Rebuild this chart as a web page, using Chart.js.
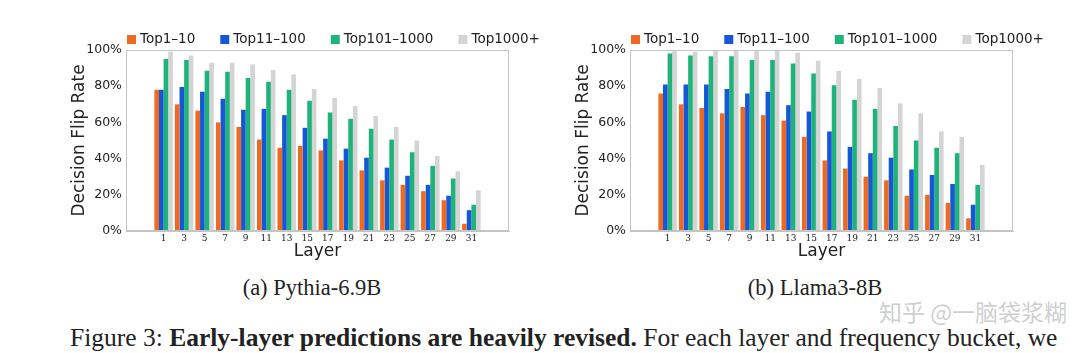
<!DOCTYPE html>
<html>
<head>
<meta charset="utf-8">
<script src="https://cdn.jsdelivr.net/npm/chart.js@4.4.1/dist/chart.umd.min.js"></script>
<style>
    body { margin: 0; width: 1080px; height: 353px; background: #fff; position: relative; overflow: hidden; }
    canvas { position: absolute; top: 0; }
    #pythiaChart { left: 60px; }
    #llamaChart { left: 564px; }
    .sub { position: absolute; top: 276px; line-height: 24px; font-family: "Liberation Serif", serif; font-size: 22.5px; color: #222; transform: translateX(-50%); white-space: nowrap; }
    .mark { position: absolute; left: 879px; top: 296px; line-height: 30px; font-family: "Noto Sans CJK SC", sans-serif; font-size: 23px; color: rgba(185, 185, 185, 0.7); white-space: nowrap; }
    .caption { position: absolute; left: 70px; top: 324px; line-height: 28px; font-family: "Liberation Serif", serif; font-size: 25.5px; color: #222; white-space: nowrap; }
</style>
</head>
<body>
<canvas id="pythiaChart" width="500" height="262"></canvas>
<canvas id="llamaChart" width="500" height="262"></canvas>
<div class="sub" style="left:312px">(a) Pythia-6.9B</div>
<div class="sub" style="left:815px">(b) Llama3-8B</div>
<div class="mark">知乎 @一脑袋浆糊</div>
<div class="caption">Figure 3: <b>Early-layer predictions are heavily revised.</b> For each layer and frequency bucket, we</div>
<script>
const layers = [1, 3, 5, 7, 9, 11, 13, 15, 17, 19, 21, 23, 25, 27, 29, 31];
const bucketLabels = ["Top1–10", "Top11–100", "Top101–1000", "Top1000+"];
const bucketColors = ["#ee6a22", "#1458d8", "#1fb37a", "#d4d4d4"];
const yTicks = [0, 20, 40, 60, 80, 100];

// Pythia-6.9B
const pythiaTop1_10 = [78, 70, 66.5, 60, 57.5, 50.5, 46, 47, 44.5, 39, 33.5, 28, 25.5, 22, 17, 4];
const pythiaTop11_100 = [78, 79.5, 77, 73, 67, 67.5, 64, 57, 51, 45.5, 40.5, 35, 30.5, 25.5, 19.5, 11.5];
const pythiaTop101_1000 = [95, 94.5, 88.5, 88, 84.5, 82.5, 78, 72, 65.5, 62, 56.5, 50.5, 43.5, 36, 29, 14.5];
const pythiaTop1000p = [99, 97, 93, 93, 92, 89, 86.5, 78.5, 73.5, 69, 63.5, 57.5, 50, 41.5, 33, 22.5];

// Llama3-8B
const llamaTop1_10 = [76, 70, 68, 65, 68.5, 64, 61, 52, 39, 34.5, 30, 28, 19.5, 20, 15.5, 7];
const llamaTop11_100 = [81, 81, 81, 78.5, 76, 77, 69.5, 66, 55, 46.5, 43, 40.5, 34, 31, 26, 14.5];
const llamaTop101_1000 = [98, 97, 96.5, 96.5, 94.5, 94.5, 92.5, 87, 80.5, 72.5, 67.5, 58, 50, 46, 43, 25.5];
const llamaTop1000p = [100, 99, 100, 100, 99.5, 100, 98.5, 94, 88.5, 84, 79, 70.5, 65, 55, 52, 36.5];

const textColor = "#222";
const frameColor = "#c4c4c4";

// frame around the plot + legend row above it, starting at the plot's left edge
const frameAndLegend = {
    id: "frameAndLegend",
    afterDraw(chart) {
        const { ctx, chartArea } = chart;
        ctx.save();
        ctx.strokeStyle = frameColor;
        ctx.lineWidth = 1;
        ctx.strokeRect(chartArea.left + 0.5, chartArea.top + 0.5, chartArea.width - 1, chartArea.height - 1);

        ctx.font = '13.5px "DejaVu Sans"';
        ctx.textBaseline = "middle";
        let x = chartArea.left + 1;
        const y = 39;
        chart.data.datasets.forEach(function (ds) {
            ctx.fillStyle = ds.backgroundColor;
            ctx.fillRect(x, y - 4, 9, 9);
            ctx.fillStyle = textColor;
            ctx.fillText(ds.label, x + 13, y);
            x += 13 + ctx.measureText(ds.label).width + 25;
        });
        ctx.restore();
    },
};

function makeChart(canvasId, series) {
    const ctx = document.getElementById(canvasId).getContext("2d");
    new Chart(ctx, {
        type: "bar",
        data: {
            datasets: series.map(function (values, i) {
                return {
                    label: bucketLabels[i],
                    data: values.map((v, j) => ({ x: layers[j], y: v })),
                    backgroundColor: bucketColors[i],
                    borderWidth: 0,
                    categoryPercentage: 0.9,
                    barPercentage: 1,
                };
            }),
        },
        options: {
            responsive: false,
            animation: false,
            layout: { padding: { top: 50, right: 51, left: 0, bottom: 0 } },
            plugins: { legend: { display: false }, tooltip: { enabled: false } },
            scales: {
                x: {
                    type: "linear",
                    min: -1.5,
                    max: 33.5,
                    afterBuildTicks: (scale) => { scale.ticks = layers.map((v) => ({ value: v })); },
                    afterFit: (scale) => { scale.height = 31; },
                    grid: { display: false, drawTicks: false },
                    border: { color: frameColor },
                    ticks: {
                        autoSkip: false,
                        maxRotation: 0,
                        padding: 2,
                        color: textColor,
                        font: { family: "DejaVu Serif", size: 9 },
                    },
                    title: {
                        display: true,
                        text: "Layer",
                        color: textColor,
                        font: { family: "DejaVu Sans", size: 17 },
                        padding: { top: 0, bottom: 0 },
                    },
                },
                y: {
                    min: 0,
                    max: 100,
                    afterBuildTicks: (scale) => { scale.ticks = yTicks.map((v) => ({ value: v })); },
                    afterFit: (scale) => { scale.width = 66; },
                    grid: { display: false, drawTicks: false },
                    border: { color: frameColor },
                    ticks: {
                        padding: 4,
                        color: textColor,
                        font: { family: "DejaVu Sans", size: 12.5 },
                        callback: (v) => v + "%",
                    },
                    title: {
                        display: true,
                        text: "Decision Flip Rate",
                        color: textColor,
                        font: { family: "DejaVu Sans", size: 17 },
                        padding: { top: 9, bottom: 0 },
                    },
                },
            },
        },
        plugins: [frameAndLegend],
    });
}

makeChart("pythiaChart", [pythiaTop1_10, pythiaTop11_100, pythiaTop101_1000, pythiaTop1000p]);
makeChart("llamaChart", [llamaTop1_10, llamaTop11_100, llamaTop101_1000, llamaTop1000p]);
</script>
</body>
</html>
